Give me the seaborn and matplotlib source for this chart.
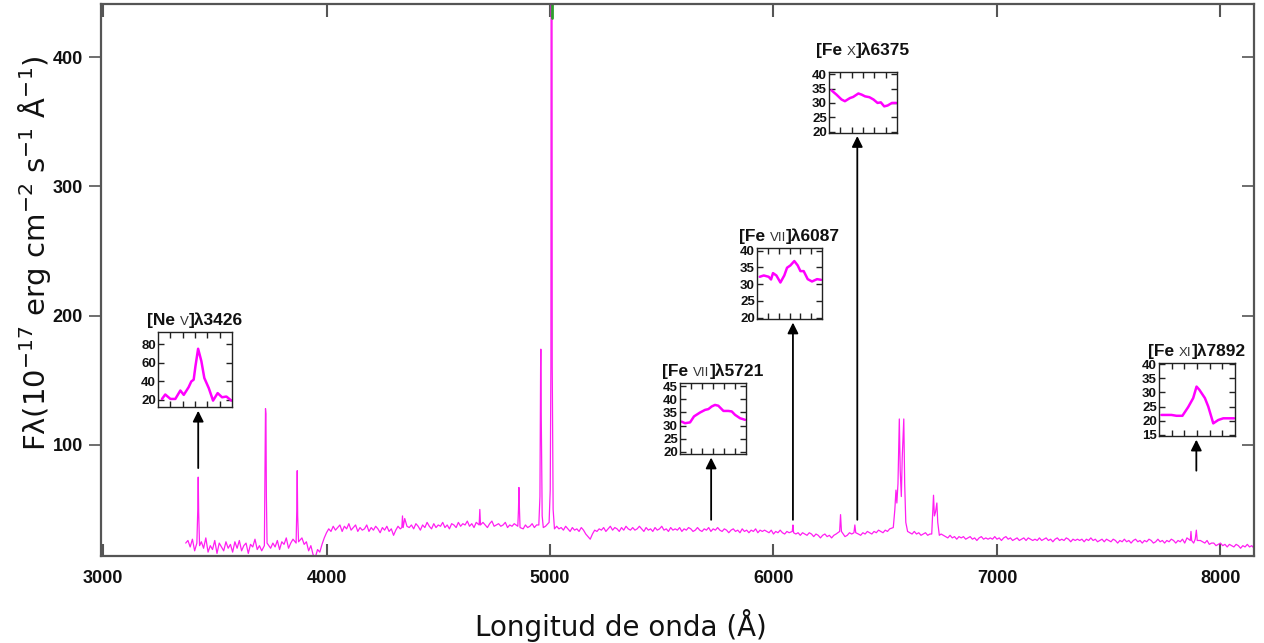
import numpy as np
import pandas as pd
import matplotlib
matplotlib.use("Agg")
import matplotlib.pyplot as plt
import matplotlib.transforms as mtransforms
from matplotlib.offsetbox import TextArea, HPacker, AnnotationBbox
import seaborn as sns

# ---------------- data ----------------
cont_start = 3370          # first continuum sample (Angstrom)
cont_step = 10             # continuum sampling (Angstrom)
cont_flux = [
    24, 26, 21, 27, 18, 23, 15, 25, 20, 28, 17, 22, 19, 26, 16, 24, 21, 18, 25, 20,
    23, 17, 25, 20, 26, 18, 22, 24, 16, 23, 21, 27, 19, 22, 18, 25, 21, 23, 20, 24,
    21, 26, 19, 25, 23, 28, 20, 24, 27, 22, 26, 21, 28, 23, 25, 18, 22, 15, 13, 19,
    17, 23, 28, 32, 35, 33, 37, 34, 36, 38, 33, 37, 35, 39, 34, 36, 38, 33, 36, 34,
    35, 38, 33, 36, 34, 37, 35, 32, 36, 34, 37, 33, 35, 30, 34, 37, 35, 39, 43, 37,
    36, 38, 35, 39, 37, 34, 38, 36, 40, 37, 35, 39, 36, 38, 37, 40, 36, 38, 35, 39,
    38, 36, 40, 37, 39, 38, 41, 37, 39, 36, 40, 38, 37, 40, 38, 36, 39, 41, 37, 38,
    39, 37, 38, 40, 36, 38, 37, 39, 36, 38, 37, 35, 38, 36, 37, 39, 36, 38, 37, 36,
    36, 37, 35, 38, 36, 34, 37, 35, 36, 34, 37, 35, 33, 36, 34, 35, 33, 36, 34, 31,
    29, 27, 31, 34, 33, 35, 34, 36, 33, 35, 37, 34, 36, 35, 33, 36, 34, 37, 35, 34,
    36, 34, 35, 37, 35, 33, 36, 34, 35, 33, 36, 34, 35, 37, 34, 35, 33, 36, 34, 35,
    34, 36, 33, 35, 34, 36, 35, 33, 34, 36, 34, 33, 35, 34, 36, 33, 35, 34, 36, 34,
    33, 35, 34, 32, 34, 35, 33, 34, 32, 35, 33, 34, 32, 34, 33, 35, 32, 34, 33, 34,
    33, 32, 34, 31, 33, 32, 34, 32, 31, 33, 32, 30, 33, 31, 32, 30, 32, 31, 30, 32,
    31, 29, 31, 30, 28, 30, 31, 29, 30, 28, 30, 31, 29, 30, 31, 29, 30, 32, 31, 30,
    32, 31, 30, 32, 31, 33, 32, 31, 33, 32, 34, 33, 32, 34, 33, 35, 34, 33, 35, 36,
    34, 33, 35, 33, 32, 31, 33, 31, 32, 30, 31, 32, 30, 31, 30, 32, 31, 30, 31, 30,
    29, 28, 30, 28, 29, 27, 29, 28, 29, 27, 28, 29, 27, 28, 26, 28, 29, 27, 28, 27,
    28, 27, 29, 27, 28, 26, 28, 29, 27, 28, 26, 27, 28, 26, 27, 28, 26, 28, 27, 26,
    27, 26, 28, 26, 27, 28, 26, 27, 25, 27, 28, 26, 27, 26, 28, 27, 25, 27, 26, 27,
    26, 27, 25, 27, 26, 28, 26, 27, 25, 26, 27, 25, 27, 26, 25, 27, 26, 24, 26, 25,
    27, 25, 26, 24, 26, 27, 25, 26, 24, 26, 25, 27, 26, 24, 25, 27, 25, 26, 24, 26,
    25, 27, 26, 24, 26, 25, 27, 24, 28, 25, 26, 24, 27, 23, 26, 25, 24, 26, 23, 24,
    24, 22, 23, 24, 22, 23, 21, 23, 22, 21, 23, 22, 20, 22, 21, 23, 21, 22, 20, 21,
]

line_wl = [3420, 3424, 3426, 3428, 3432,
           3722, 3725, 3727, 3729, 3731, 3734,
           3864, 3867, 3869, 3871, 3875,
           4337, 4340, 4343,
           4683, 4686, 4689,
           4856, 4859, 4861, 4863, 4866,
           4950, 4955, 4958, 4959, 4961, 4965, 4970,
           4996, 5001, 5004, 5006, 5008, 5010, 5014, 5020,
           6084, 6087, 6090,
           6296, 6300, 6304,
           6360, 6364, 6368,
           6536, 6543, 6548, 6552, 6557, 6563, 6567, 6572, 6576, 6583, 6587, 6592, 6600,
           6708, 6713, 6716, 6720, 6725, 6731, 6735, 6742,
           7865, 7868, 7871, 7887, 7892, 7896]
line_flux = [24, 50, 75, 48, 22,
             22, 90, 128, 124, 60, 24,
             24, 50, 80, 45, 25,
             36, 45, 36,
             38, 50, 38,
             37, 50, 67, 52, 36,
             38, 60, 160, 174, 120, 45, 36,
             40, 65, 160, 900, 900, 160, 50, 35,
             33, 38, 32,
             33, 46, 33,
             32, 38, 32,
             36, 50, 65, 55, 70, 120, 80, 60, 90, 120, 70, 40, 33,
             31, 50, 61, 45, 48, 55, 40, 30,
             26, 33, 26, 27, 34, 26]

oiii_wl = 5007

# inset profiles
ins_names = ["Ne", "Fe", "Fe", "Fe", "Fe"]
ins_ions = ["V", "VII", "VII", "X", "XI"]
ins_centers = [3426, 5721, 6087, 6375, 7892]
ins_x = [
    [3403.7, 3405.9, 3409.4, 3412.7, 3416.1, 3418.4, 3421.7, 3423.5, 3425.1, 3426.3,
     3428.1, 3430.3, 3432.3, 3435.3, 3438.2, 3441.3, 3444.3, 3447.2, 3450.6],
    [5697.3, 5699.8, 5703.6, 5706.6, 5711.2, 5715.0, 5717.5, 5720.0, 5722.5, 5725.0,
     5728.9, 5732.6, 5735.2, 5737.7, 5741.5, 5745.3],
    [6064.1, 6067.2, 6071.0, 6072.8, 6074.3, 6076.9, 6080.0, 6083.0, 6085.1, 6087.7,
     6090.7, 6093.3, 6095.4, 6097.9, 6101.0, 6104.3, 6108.2, 6111.3],
    [6351.8, 6355.5, 6359.2, 6361.7, 6365.4, 6367.8, 6371.6, 6374.0, 6376.5, 6379.7,
     6382.7, 6385.7, 6388.1, 6390.6, 6393.1, 6396.3, 6399.5],
    [7868.6, 7875.2, 7878.5, 7882.4, 7886.2, 7889.5, 7891.7, 7893.5, 7897.2, 7899.4,
     7902.7, 7906.0, 7909.3, 7913.7, 7916.4],
]
ins_flux = [
    [20.7, 25.5, 20.7, 20.7, 29.8, 25.1, 33.4, 39.6, 41.5, 56.0,
     74.9, 61.5, 43.3, 32.4, 18.9, 27.0, 22.5, 23.3, 18.9],
    [31.5, 30.9, 31.2, 33.5, 35.0, 36.0, 36.3, 37.3, 37.9, 37.6,
     35.6, 35.6, 35.4, 34.1, 32.8, 32.2],
    [32.2, 32.6, 32.2, 31.4, 33.3, 32.6, 30.5, 32.6, 34.9, 35.6,
     36.9, 35.6, 33.9, 33.9, 31.5, 30.8, 31.5, 31.3],
    [34.4, 32.9, 31.2, 30.6, 31.7, 32.1, 33.3, 32.9, 32.3, 32.0,
     31.2, 30.0, 30.2, 28.8, 29.1, 30.0, 30.0],
    [22.0, 22.0, 21.7, 21.7, 24.8, 28.0, 32.1, 31.0, 28.0, 25.0,
     19.0, 20.2, 20.8, 20.8, 20.8],
]
ins_yticks = [[20, 40, 60, 80], [20, 25, 30, 35, 40, 45], [20, 25, 30, 35, 40],
              [20, 25, 30, 35, 40], [15, 20, 25, 30, 35, 40]]
ins_ylim = [(12, 93), (19.1, 46.3), (19.6, 40.8), (19.5, 40.8), (14.5, 40.5)]
arrow_base = [82, 42, 42, 42, 80]

xticks_main = [3000, 4000, 5000, 6000, 7000, 8000]
yticks_main = [100, 200, 300, 400]

# ---------------- assemble spectrum ----------------
cont_wl = cont_start + cont_step * np.arange(len(cont_flux))
lw_arr = np.array(line_wl, dtype=float)
keep = np.array([np.min(np.abs(lw_arr - w)) > 6 for w in cont_wl])
wl = np.concatenate([cont_wl[keep], lw_arr])
fl = np.concatenate([np.array(cont_flux, dtype=float)[keep], np.array(line_flux, dtype=float)])
order = np.argsort(wl)
spec = pd.DataFrame({"wl": wl[order], "flux": fl[order]})

# ---------------- figure ----------------
sns.set_theme(style="ticks")
plt.rcParams["font.family"] = ["Liberation Sans", "DejaVu Sans"]
plt.rcParams["mathtext.default"] = "regular"

W, H = 1264, 643
fig = plt.figure(figsize=(W / 100, H / 100), dpi=100)
fig.patch.set_facecolor("white")


def rect(x0, y0, x1, y1):
    return [x0 / W, (H - y1) / H, (x1 - x0) / W, (y1 - y0) / H]


ax = fig.add_axes(rect(101, 4, 1254, 556))
MAG = "#ff1ef2"
sns.lineplot(data=spec, x="wl", y="flux", ax=ax, color=MAG, lw=0.9,
             sort=False, estimator=None)
ax.axvline(oiii_wl, ymin=0.975, ymax=1.0, color="#2ca02c", lw=2)

ax.set_xlim(2991, 8150)
ax.set_ylim(14, 441)
ax.set_xticks(xticks_main)
ax.set_yticks(yticks_main)
ax.set_xlabel("")
ax.set_ylabel("")
frame = "#555555"
for s in ax.spines.values():
    s.set_color(frame)
    s.set_linewidth(1.6)
ax.tick_params(axis="x", direction="in", top=True, length=9, width=1.5,
               color=frame, labelsize=13, pad=10, labelcolor="#111111")
ax.tick_params(axis="y", direction="out", length=9, width=1.2,
               color=frame, labelsize=13, pad=4, labelcolor="#111111")
for t in ax.get_xticklabels() + ax.get_yticklabels():
    t.set_fontweight("bold")
sec = ax.secondary_yaxis("right")
sec.set_yticks(yticks_main)
sec.tick_params(direction="in", length=9, width=1.2, color=frame, labelright=False)
sec.spines["right"].set_visible(False)

fig.text(621 / W, 1 - 625 / H, "Longitud de onda (Å)", ha="center", va="center",
         fontsize=20, family="DejaVu Sans", color="#111111")
fig.text(35 / W, 1 - 253 / H,
         "Fλ(10$^{-17}$ erg cm$^{-2}$ s$^{-1}$ Å$^{-1}$)",
         ha="center", va="center", rotation=90, fontsize=21,
         family="DejaVu Sans", color="#111111")

ins_rects = [rect(158, 332, 232, 407), rect(680, 383, 746, 454),
             rect(757, 248, 822, 319), rect(829, 72, 897, 133),
             rect(1159, 363, 1235, 436)]
title_gap = [3, 3, 3, 10, 3]

for i in range(5):
    ins = fig.add_axes(ins_rects[i])
    c = ins_centers[i]
    d = pd.DataFrame({"x": ins_x[i], "y": ins_flux[i]})
    sns.lineplot(data=d, x="x", y="y", ax=ins, color="#ff00ff", lw=1.8,
                 sort=False, estimator=None)
    ins.set_xlim(c - 25, c + 25)
    ins.set_ylim(*ins_ylim[i])
    ins.set_xticks([c - 25 + 50 * k / 6 for k in range(1, 6)])
    ins.set_yticks(ins_yticks[i])
    ins.set_xlabel("")
    ins.set_ylabel("")
    ins.tick_params(axis="both", direction="in", length=4, width=1,
                    top=True, right=True, color="#222222", labelbottom=False,
                    labelsize=9.5, pad=1.5, labelcolor="#111111")
    for t in ins.get_yticklabels():
        t.set_fontweight("bold")
    for s in ins.spines.values():
        s.set_color("#222222")
        s.set_linewidth(1.0)

    tp_b = dict(fontsize=12.5, fontweight="bold", color="#111111")
    tp_r = dict(fontsize=9.5, fontweight="normal", color="#333333")
    pack = HPacker(children=[TextArea("[" + ins_names[i] + " ", textprops=tp_b),
                             TextArea(ins_ions[i], textprops=tp_r),
                             TextArea("]λ" + str(c), textprops=tp_b)],
                   align="baseline", pad=0, sep=0)
    ab = AnnotationBbox(pack, (0.5, 1.0), xycoords=ins, xybox=(0, title_gap[i]),
                        boxcoords="offset points", box_alignment=(0.5, 0),
                        frameon=False, pad=0)
    fig.add_artist(ab)

    tr = mtransforms.blended_transform_factory(ax.transData, ins.transAxes)
    ax.annotate("", xy=(c, -0.05), xycoords=tr,
                xytext=(c, arrow_base[i]), textcoords="data",
                arrowprops=dict(arrowstyle="-|>", color="black", lw=1.3,
                                mutation_scale=16, shrinkA=0, shrinkB=0),
                annotation_clip=False)

fig.savefig("out.png", dpi=100, facecolor="white")
